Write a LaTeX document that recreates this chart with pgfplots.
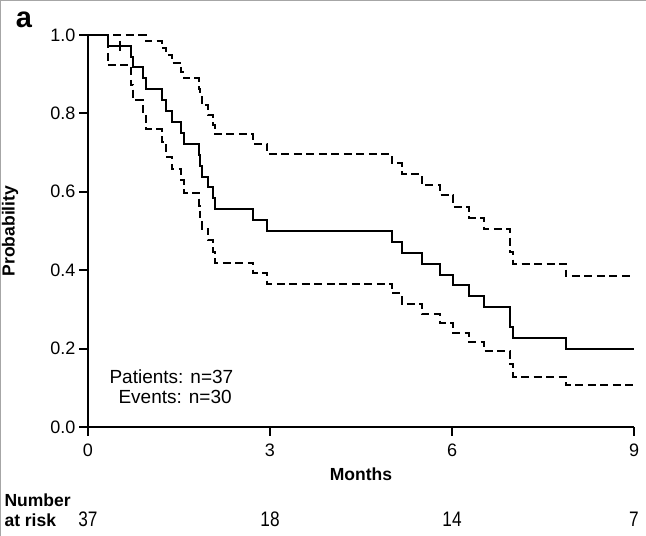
\documentclass[border=0pt]{standalone}
\usepackage{pgfplots}
\pgfplotsset{compat=1.18}
\usepackage{fontspec}
\setmainfont{Liberation Sans}
\usepackage{graphicx}
\begin{document}
\begin{tikzpicture}[x=1bp,y=1bp]
\useasboundingbox (0,0) rectangle (646,536);
\draw[gray!70, line width=1.2bp] (0.6,0) -- (0.6,535.4) -- (646,535.4);
\begin{axis}[
  at={(88bp,109bp)}, anchor=south west,
  scale only axis, width=546bp, height=392bp,
  xmin=0, xmax=9, ymin=0, ymax=1,
  axis x line*=bottom, axis y line*=left,
  axis line style={line width=2bp, black},
  xtick={0,3,6,9}, ytick={0,0.2,0.4,0.6,0.8,1},
  yticklabel style={/pgf/number format/fixed,/pgf/number format/precision=1,/pgf/number format/fixed zerofill},
  xticklabel style={yshift=-4bp},
  tick align=outside, major tick length=9bp,
  tick style={line width=2bp, black},
  /pgf/number format/assume math mode=true,
  ticklabel style={font=\fontsize{18bp}{20bp}\selectfont},
  xlabel={Months}, ylabel={Probability},
  label style={font=\fontsize{17.5bp}{20bp}\selectfont\bfseries},
  xlabel style={at={(axis description cs:0.5,0)}, anchor=center, yshift=-47bp},
  ylabel style={at={(axis description cs:-0.1429,0.5)}, anchor=center},
  clip=false,
]
\addplot[const plot, line width=2bp] coordinates {
(0,1) (0.325,0.973) (0.704,0.945) (0.747,0.918) (0.90,0.890) (0.95,0.862) (1.215,0.834) (1.286,0.806) (1.38,0.778) (1.533,0.751) (1.582,0.723) (1.835,0.695) (1.846,0.667) (1.874,0.639) (1.983,0.612) (2.065,0.584) (2.093,0.556) (2.725,0.528) (2.955,0.500) (5.006,0.472) (5.171,0.444) (5.50,0.417) (5.80,0.389) (6.02,0.361) (6.285,0.333) (6.527,0.306) (6.956,0.255) (7.01,0.228) (7.879,0.199) (9,0.199)};
\addplot[const plot, line width=2bp, dash pattern=on 8bp off 4.5bp] coordinates {
(0,1) (0.95,0.984) (1.215,0.966) (1.286,0.950) (1.38,0.929) (1.533,0.905) (1.582,0.889) (1.835,0.862) (1.846,0.842) (1.874,0.821) (1.983,0.796) (2.065,0.770) (2.093,0.747) (2.725,0.722) (2.955,0.696) (5.006,0.673) (5.171,0.645) (5.50,0.617) (5.80,0.592) (6.02,0.562) (6.285,0.534) (6.527,0.505) (6.956,0.447) (7.01,0.416) (7.879,0.385) (9,0.385)};
\addplot[const plot, line width=2bp, dash pattern=on 8bp off 4.5bp] coordinates {
(0,1) (0.325,0.923) (0.704,0.872) (0.747,0.834) (0.90,0.797) (0.95,0.760) (1.215,0.728) (1.286,0.690) (1.38,0.658) (1.533,0.630) (1.582,0.596) (1.835,0.565) (1.846,0.535) (1.874,0.506) (1.983,0.477) (2.065,0.447) (2.093,0.419) (2.725,0.392) (2.955,0.366) (5.006,0.341) (5.171,0.314) (5.50,0.288) (5.80,0.266) (6.02,0.239) (6.285,0.216) (6.527,0.194) (6.956,0.160) (7.01,0.128) (7.879,0.107) (9,0.107)};
\addplot[only marks, mark=|, mark size=5bp, mark options={line width=2bp}] coordinates {(0.527,0.973)};
\end{axis}
\node[anchor=west, font=\fontsize{19bp}{20bp}\selectfont] at (106,159) {Patients: n=37};
\node[anchor=west, font=\fontsize{19bp}{20bp}\selectfont] at (115,139) {Events: n=30};
\node[font=\fontsize{29bp}{32bp}\selectfont\bfseries] at (24,516) {a};
\node[anchor=west, font=\fontsize{17.5bp}{20bp}\selectfont\bfseries] at (1,36) {Number};
\node[anchor=west, font=\fontsize{17.5bp}{20bp}\selectfont\bfseries] at (1,16) {at risk};
\node[font=\fontsize{21bp}{22bp}\selectfont] at (88,17) {\scalebox{0.82}[1]{37}};
\node[font=\fontsize{21bp}{22bp}\selectfont] at (270,17) {\scalebox{0.82}[1]{18}};
\node[font=\fontsize{21bp}{22bp}\selectfont] at (452,17) {\scalebox{0.82}[1]{14}};
\node[font=\fontsize{21bp}{22bp}\selectfont] at (634,17) {\scalebox{0.82}[1]{7}};
\end{tikzpicture}
\end{document}
